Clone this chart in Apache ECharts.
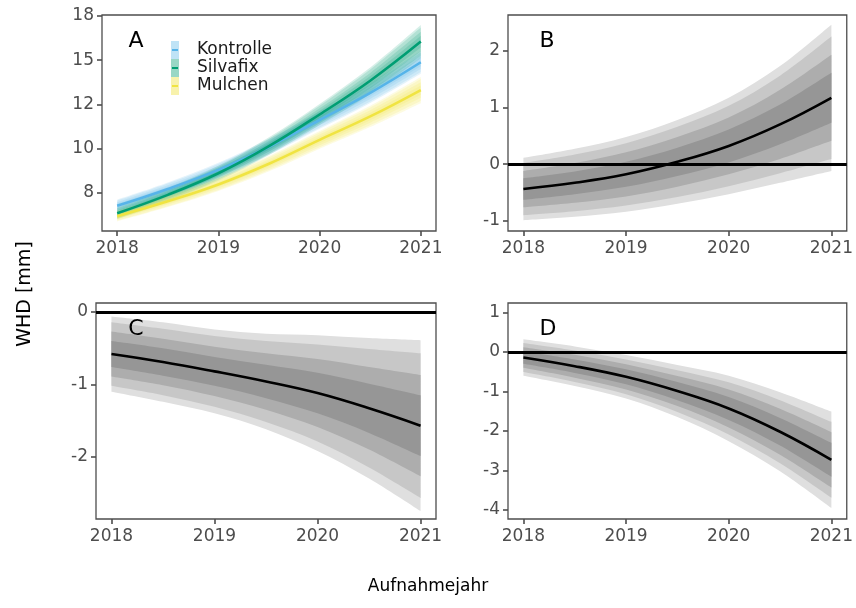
<!DOCTYPE html>
<html>
<head>
<meta charset="utf-8">
<script src="https://cdn.jsdelivr.net/npm/echarts@6/dist/echarts.min.js"></script>
<style>
html, body { margin: 0; padding: 0; background: #fff; }
#chart { width: 856px; height: 608px; }
</style>
</head>
<body>
<div id="chart"></div>
<script>
// Aufnahmejahre (Stuetzstellen der Kurven)
var years = [2018, 2018.5, 2019, 2019.5, 2020, 2020.5, 2021];
var yearTicks = [2018, 2019, 2020, 2021];

// Panel A: WHD je Variante
var kontrolle = [6.77, 7.72, 8.80, 10.11, 11.62, 13.15, 14.88];
var silvafix  = [6.35, 7.39, 8.61, 10.14, 11.93, 13.84, 16.05];
var mulchen   = [6.19, 7.03, 7.98, 9.15, 10.50, 11.82, 13.31];
// halbe Breite der Intervalle, aussen -> innen
var kontrolleBand = [
	[0.35, 0.37, 0.40, 0.45, 0.50, 0.57, 0.65],
	[0.29, 0.31, 0.34, 0.38, 0.42, 0.48, 0.55],
	[0.21, 0.22, 0.24, 0.27, 0.30, 0.34, 0.38],
	[0.12, 0.13, 0.14, 0.16, 0.18, 0.20, 0.23]
];
var silvafixBand = [
	[0.33, 0.37, 0.42, 0.50, 0.60, 0.75, 0.94],
	[0.28, 0.31, 0.35, 0.42, 0.50, 0.63, 0.79],
	[0.19, 0.22, 0.25, 0.30, 0.35, 0.44, 0.55],
	[0.12, 0.13, 0.15, 0.18, 0.21, 0.26, 0.33]
];
var mulchenBand = [
	[0.30, 0.33, 0.37, 0.43, 0.50, 0.60, 0.74],
	[0.25, 0.28, 0.31, 0.36, 0.42, 0.50, 0.62],
	[0.18, 0.19, 0.22, 0.25, 0.30, 0.35, 0.44],
	[0.11, 0.12, 0.13, 0.15, 0.18, 0.21, 0.26]
];
var yTicksA = [7.5, 10, 12.5, 15, 17.5];
var yLabelsA = ['8', '10', '12', '15', '18'];

// Panel B, C, D: Differenzen
var diffB = [-0.44, -0.33, -0.18, 0.04, 0.32, 0.70, 1.17];
var bandB = [
	[0.55, 0.60, 0.66, 0.74, 0.85, 1.03, 1.29],
	[0.46, 0.50, 0.55, 0.62, 0.71, 0.86, 1.08],
	[0.32, 0.35, 0.39, 0.44, 0.50, 0.61, 0.76],
	[0.19, 0.20, 0.22, 0.25, 0.29, 0.35, 0.44]
];
var diffC = [-0.58, -0.69, -0.82, -0.96, -1.12, -1.33, -1.57];
var bandC = [
	[0.52, 0.55, 0.58, 0.66, 0.80, 0.97, 1.18],
	[0.44, 0.46, 0.49, 0.56, 0.67, 0.82, 1.00],
	[0.31, 0.32, 0.34, 0.39, 0.47, 0.57, 0.70],
	[0.18, 0.19, 0.20, 0.23, 0.28, 0.34, 0.42]
];
var diffD = [-0.14, -0.36, -0.63, -0.99, -1.43, -2.02, -2.73];
var bandD = [
	[0.46, 0.50, 0.55, 0.66, 0.83, 1.00, 1.22],
	[0.37, 0.40, 0.44, 0.53, 0.66, 0.80, 0.96],
	[0.26, 0.29, 0.32, 0.38, 0.48, 0.58, 0.70],
	[0.16, 0.17, 0.19, 0.23, 0.29, 0.35, 0.43]
];
var yTicksB = [-1, 0, 1, 2];
var yTicksC = [-2, -1, 0];
var yTicksD = [-4, -3, -2, -1, 0, 1];

var greys = ['#dfdfdf', '#c7c7c7', '#adadad', '#969696'];
var FONT = 'DejaVu Sans';
var axisGrey = '#4d4d4d';

var grids = [
	{ left: 102, top: 15, width: 334, height: 216 },
	{ left: 508, top: 15, width: 339, height: 216 },
	{ left: 96,  top: 303, width: 340, height: 216 },
	{ left: 508, top: 303, width: 339, height: 216 }
];
var yRanges = [[5.35, 17.55], [-1.18, 2.63], [-2.86, 0.125], [-4.23, 1.24]];
var yTicks = [yTicksA, yTicksB, yTicksC, yTicksD];

var gridOpt = [], xAxes = [], yAxes = [], series = [];

for (var i = 0; i < 4; i++) {
	gridOpt.push({
		left: grids[i].left, top: grids[i].top, width: grids[i].width, height: grids[i].height,
		show: true, borderColor: axisGrey, borderWidth: 1.3, backgroundColor: '#fff', containLabel: false
	});
	xAxes.push({
		type: 'value', gridIndex: i, min: 2017.85, max: 2021.15,
		axisLine: { show: false, onZero: false },
		splitLine: { show: false },
		axisTick: { show: true, length: 5, customValues: yearTicks, lineStyle: { color: axisGrey, width: 1.6 } },
		axisLabel: {
			customValues: yearTicks, margin: 9, color: axisGrey, fontSize: 17, fontFamily: FONT,
			formatter: function (v) { return String(Math.round(v)); }
		}
	});
	(function (idx) {
		yAxes.push({
			type: 'value', gridIndex: idx, min: yRanges[idx][0], max: yRanges[idx][1],
			axisLine: { show: false, onZero: false },
			splitLine: { show: false },
			axisTick: { show: true, length: 5, customValues: yTicks[idx], lineStyle: { color: axisGrey, width: 1.6 } },
			axisLabel: {
				customValues: yTicks[idx], margin: 8, color: axisGrey, fontSize: 17, fontFamily: FONT,
				formatter: function (v) {
					if (idx === 0) {
						for (var k = 0; k < yTicksA.length; k++) {
							if (Math.abs(yTicksA[k] - v) < 1e-6) return yLabelsA[k];
						}
					}
					return String(v);
				}
			}
		});
	})(i);
}

// glatter Rand durch die Punkte (Catmull-Rom)
function curveTo(pts) {
	var d = '';
	for (var i = 0; i < pts.length - 1; i++) {
		var p0 = pts[i - 1] || pts[i], p1 = pts[i], p2 = pts[i + 1], p3 = pts[i + 2] || pts[i + 1];
		var c1x = p1[0] + (p2[0] - p0[0]) / 6, c1y = p1[1] + (p2[1] - p0[1]) / 6;
		var c2x = p2[0] - (p3[0] - p1[0]) / 6, c2y = p2[1] - (p3[1] - p1[1]) / 6;
		d += ' C' + c1x + ',' + c1y + ' ' + c2x + ',' + c2y + ' ' + p2[0] + ',' + p2[1];
	}
	return d;
}

function bandSeries(idx, center, half, color) {
	return {
		type: 'custom', xAxisIndex: idx, yAxisIndex: idx, silent: true, z: 2,
		data: years.map(function (x, j) { return [x, center[j] - half[j], center[j] + half[j]]; }),
		encode: { x: 0, y: [1, 2] },
		renderItem: function (params, api) {
			if (params.dataIndexInside !== 0) return;
			var n = params.dataInsideLength;
			var upper = [], lower = [];
			for (var j = 0; j < n; j++) {
				upper.push(api.coord([api.value(0, j), api.value(2, j)]));
				lower.unshift(api.coord([api.value(0, j), api.value(1, j)]));
			}
			var d = 'M' + upper[0][0] + ',' + upper[0][1] + curveTo(upper) +
				' L' + lower[0][0] + ',' + lower[0][1] + curveTo(lower) + ' Z';
			return {
				type: 'path',
				shape: { pathData: d },
				style: { fill: color }
			};
		}
	};
}

function lineSeries(idx, name, vals, color, zeroLine) {
	var s = {
		type: 'line', name: name, xAxisIndex: idx, yAxisIndex: idx, silent: true, z: 4,
		data: years.map(function (x, j) { return [x, vals[j]]; }),
		smooth: 0.4, showSymbol: false, symbol: 'none',
		lineStyle: { color: color, width: 2.6 },
		itemStyle: { color: color }
	};
	if (zeroLine) {
		s.markLine = {
			silent: true, symbol: ['none', 'none'], label: { show: false },
			lineStyle: { color: '#000', width: 2.8, type: 'solid' },
			data: [{ yAxis: 0 }]
		};
	}
	return s;
}

// Panel A
var groupsA = [
	{ name: 'Kontrolle', vals: kontrolle, band: kontrolleBand, rgb: '86,180,233', line: '#56B4E9', key: '#bfe3f6' },
	{ name: 'Silvafix', vals: silvafix, band: silvafixBand, rgb: '0,158,115', line: '#009E73', key: '#99d7c5' },
	{ name: 'Mulchen', vals: mulchen, band: mulchenBand, rgb: '240,228,66', line: '#F0E442', key: '#f8f2ac' }
];
groupsA.forEach(function (g) {
	for (var k = 0; k < g.band.length; k++) {
		series.push(bandSeries(0, g.vals, g.band[k], 'rgba(' + g.rgb + ',0.16)'));
	}
});
groupsA.forEach(function (g) {
	series.push(lineSeries(0, g.name, g.vals, g.line, false));
});

// Panels B, C, D
var diffs = [[1, diffB, bandB], [2, diffC, bandC], [3, diffD, bandD]];
diffs.forEach(function (d) {
	for (var k = 0; k < d[2].length; k++) {
		series.push(bandSeries(d[0], d[1], d[2][k], greys[k]));
	}
	series.push(lineSeries(d[0], 'diff' + d[0], d[1], '#000', true));
});

var letters = [['A', 136, 41], ['B', 547, 41], ['C', 136, 329], ['D', 548, 329]];

var option = {
	backgroundColor: '#fff',
	animation: false,
	grid: gridOpt,
	xAxis: xAxes,
	yAxis: yAxes,
	legend: [
		{
			orient: 'vertical', left: 171, top: 41, padding: 0, itemGap: 0,
			itemWidth: 8, itemHeight: 18, icon: 'rect', selectedMode: false,
			data: groupsA.map(function (g) { return { name: g.name, itemStyle: { color: g.key, borderWidth: 0 } }; }),
			textStyle: { fontFamily: FONT, fontSize: 17, color: '#1a1a1a', lineHeight: 18, padding: [0, 0, 0, 13] }
		},
		{
			orient: 'vertical', left: 172, top: 41, padding: 0, itemGap: 0,
			itemWidth: 6, itemHeight: 2, icon: 'rect', selectedMode: false,
			data: groupsA.map(function (g) { return { name: g.name, itemStyle: { color: g.line, borderWidth: 0 } }; }),
			textStyle: { fontFamily: FONT, fontSize: 17, color: 'rgba(0,0,0,0)', lineHeight: 18, padding: [0, 0, 0, 13] }
		}
	],
	graphic: letters.map(function (l) {
		return {
			type: 'text', x: l[1], y: l[2], silent: true, z: 100,
			style: { text: l[0], font: '22px "DejaVu Sans"', fill: '#000', textAlign: 'center', textVerticalAlign: 'middle' }
		};
	}).concat([
		{
			type: 'text', x: 25, y: 294, rotation: Math.PI / 2, silent: true, z: 100,
			style: { text: 'WHD [mm]', font: '19px "DejaVu Sans"', fill: '#000', textAlign: 'center', textVerticalAlign: 'middle' }
		},
		{
			type: 'text', x: 428, y: 587, silent: true, z: 100,
			style: { text: 'Aufnahmejahr', font: '17px "DejaVu Sans"', fill: '#000', textAlign: 'center', textVerticalAlign: 'middle' }
		}
	]),
	series: series
};

var myChart = echarts.init(document.getElementById('chart'));
myChart.setOption(option);
</script>
</body>
</html>
